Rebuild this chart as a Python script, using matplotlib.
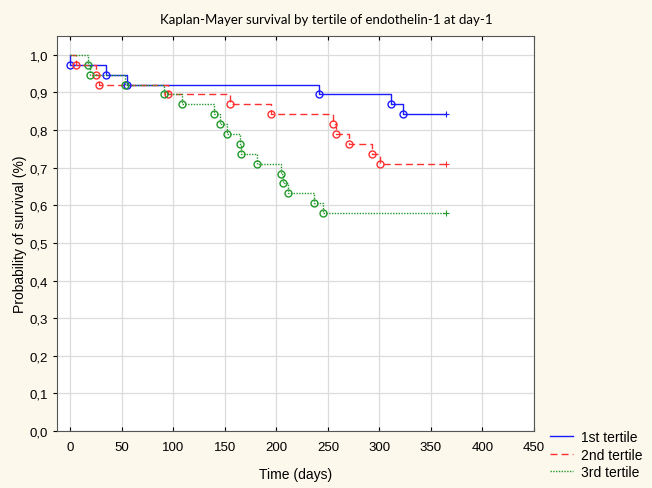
import numpy as np
import matplotlib.pyplot as plt
from matplotlib.ticker import FuncFormatter

plt.rcParams['font.family'] = ['Liberation Sans', 'DejaVu Sans']

# event times (days) and survival after each event
t1 = [0, 35, 55, 241, 311, 323]
s1 = [0.974, 0.947, 0.921, 0.895, 0.868, 0.842]
t2 = [5, 25, 28, 95, 155, 195, 255, 258, 270, 293, 301]
s2 = [0.974, 0.947, 0.921, 0.895, 0.868, 0.842, 0.816, 0.789, 0.763, 0.737, 0.711]
t3 = [17, 19, 53, 91, 108, 139, 145, 152, 165, 166, 181, 204, 206, 211, 236, 245]
s3 = [0.974, 0.947, 0.921, 0.895, 0.868, 0.842, 0.816, 0.789, 0.763, 0.737,
      0.711, 0.684, 0.658, 0.632, 0.605, 0.579]
t_end = 365  # last censored observation

labels = ['1st tertile', '2nd tertile', '3rd tertile']
colors = ['#1a1aff', '#ff3030', '#22992a']
styles = ['-', (0, (5, 3)), (0, (1, 1))]

bg = '#fcf8ec'
fig = plt.figure(figsize=(6.52, 4.89), dpi=100, facecolor=bg)
ax = fig.add_axes([0.0874, 0.1166, 0.7316, 0.8077])

for t, s, c, ls, lab in zip([t1, t2, t3], [s1, s2, s3], colors, styles, labels):
    x = [0] + t + [t_end]
    y = [1.0] + s + [s[-1]]
    ax.step(x, y, where='post', color=c, ls=ls, lw=1.0, label=lab, zorder=3)
    ax.plot(t, s, 'o', mfc='none', mec=c, ms=5, mew=1.0, zorder=4)
    ax.plot([t_end], [s[-1]], '+', color=c, ms=5, mew=0.8, zorder=4)

ax.set_xlim(-13, 450)
ax.set_ylim(0, 1.05)
ax.set_xticks(np.arange(0, 451, 50))
ax.set_yticks(np.arange(0, 1.01, 0.1))
ax.yaxis.set_major_formatter(FuncFormatter(lambda v, p: f'{v:.1f}'.replace('.', ',')))
ax.grid(True, color='#dcdcdc', lw=0.9)
ax.set_axisbelow(True)
ax.tick_params(axis='x', direction='in', top=True, length=3, labelsize=9.5, pad=7)
ax.tick_params(axis='y', direction='out', length=3, labelsize=9.5)
for sp in ax.spines.values():
    sp.set_color('#555555')

ax.set_xlabel('Time (days)', fontsize=10, labelpad=10)
ax.set_ylabel('Probability of survival (%)', fontsize=10, labelpad=2)
fig.text(0.50, 0.959, 'Kaplan-Mayer survival by tertile of endothelin-1 at day-1',
         ha='center', va='center', fontsize=9.5, family=['Lato', 'DejaVu Sans'])

fig.legend(loc='upper left', bbox_to_anchor=(0.8436, 0.1180), frameon=False,
           fontsize=10, handlelength=1.65, handletextpad=0.58, labelspacing=0.25,
           borderpad=0, borderaxespad=0)

fig.savefig('out.png', dpi=100, facecolor=bg)
